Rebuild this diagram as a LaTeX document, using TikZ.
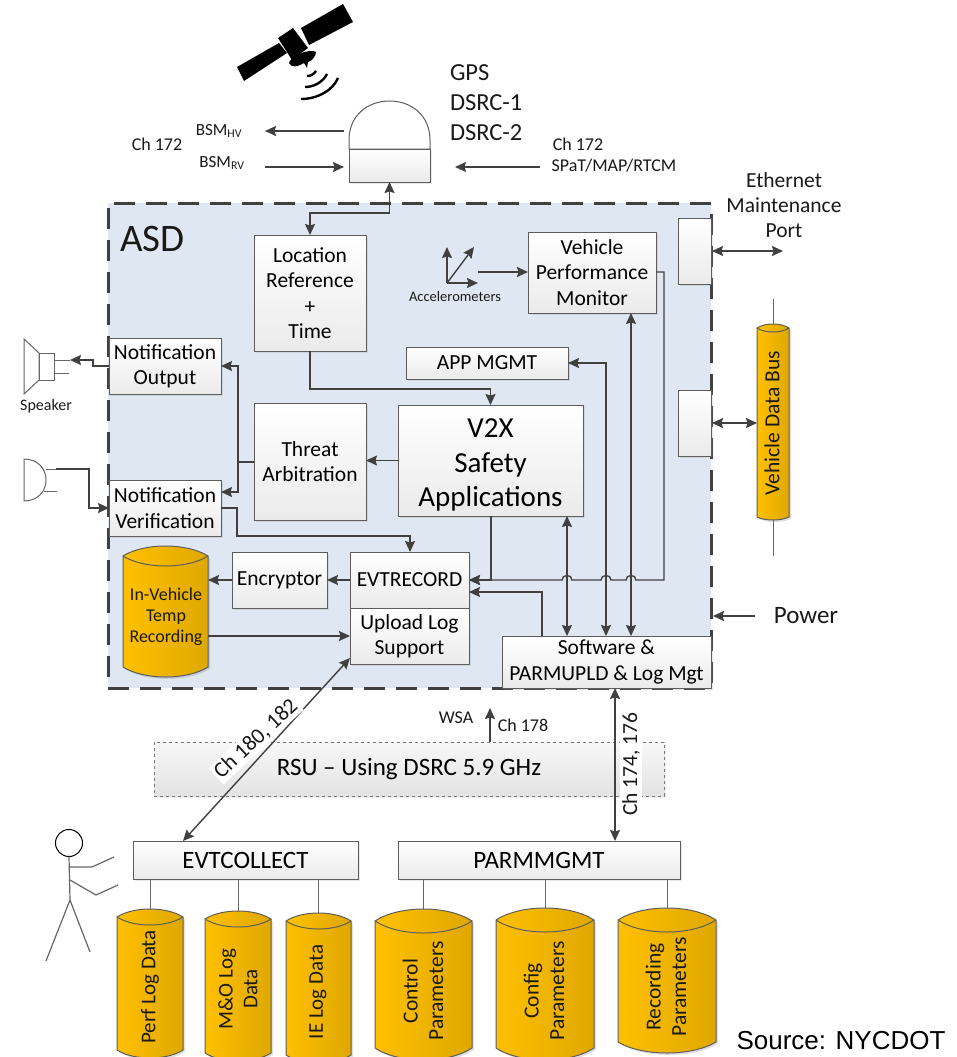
\documentclass[tikz,border=0pt]{standalone}
\usepackage{fontspec}
\setmainfont{Carlito}
\newfontfamily\srcfont{Liberation Sans}
\usetikzlibrary{arrows.meta,shadows,calc}
\definecolor{ln}{HTML}{404040}
\definecolor{asdfill}{HTML}{DFE8F2}
\definecolor{cyla}{HTML}{FFC000}
\definecolor{cylb}{HTML}{DFA800}
\newcommand{\fsz}[1]{\pgfmathsetmacro\blsv{#1*1.18}\fontsize{#1}{\blsv}\selectfont}
\tikzset{
  fs/.style={font=\fsz{#1}},
  boxs/.style={draw=ln!85,line width=1pt,top color=white,bottom color=black!8,
    inner sep=0pt,outer sep=0pt,align=center,text=black,
    drop shadow={opacity=.18,shadow xshift=1.5pt,shadow yshift=-1.5pt}},
  lab/.style={inner sep=0pt,outer sep=0pt,align=center,text=black!90},
  tip/.tip={Stealth[length=11pt,width=10pt,inset=1.5pt]},
  arr/.style={draw=ln,line width=1.4pt,-{tip}},
  darr/.style={draw=ln,line width=1.4pt,{tip}-{tip}},
  wire/.style={draw=ln,line width=1.4pt},
  thin line/.style={draw=ln!80,line width=1pt},
  cylfill/.style={draw=ln!85,line width=1pt,left color=cyla,right color=cylb},
  sat/.style={fill=black,draw=none},
  wave/.style={draw=black,line width=2.4pt},
}
% box from corners
\newcommand{\bx}[7][]{%
  \pgfmathsetmacro\cxv{(#3+#5)/2}\pgfmathsetmacro\cyv{(#4+#6)/2}%
  \pgfmathsetmacro\wv{#5-#3}\pgfmathsetmacro\hv{#6-#4}%
  \node[boxs,#1,minimum width=\wv pt,minimum height=\hv pt] (#2) at (\cxv,\cyv) {#7};}
% cylinder: name x1 x2 ytop d ybc ybot textopts text
\newcommand{\cyl}[9]{%
  \pgfmathsetmacro\xm{(#2+#3)/2}\pgfmathsetmacro\wq{(#3-#2)/4}%
  \pgfmathsetmacro\yc{#4+#5}\pgfmathsetmacro\yq{#4+#5-4/3*#5}\pgfmathsetmacro\yl{#4+#5+4/3*#5}%
  \pgfmathsetmacro\yb{#6+4/3*(#7-#6)}%
  \pgfmathsetmacro\xa{#2+\wq}\pgfmathsetmacro\xb{#3-\wq}%
  \path[fill=black,opacity=.12] (#2+2,\yc+2) -- (#2+2,#6+2) .. controls (\xa+2,\yb+2) and (\xb+2,\yb+2) .. (#3+2,#6+2) -- (#3+2,\yc+2) -- cycle;
  \path[cylfill] (#2,\yc) .. controls (\xa,\yq) and (\xb,\yq) .. (#3,\yc) -- (#3,#6) .. controls (\xb,\yb) and (\xa,\yb) .. (#2,#6) -- cycle;
  \draw[draw=ln!85,line width=1pt] (#2,\yc) .. controls (\xa,\yl) and (\xb,\yl) .. (#3,\yc);
  \pgfmathsetmacro\cyv{(#4+#7)/2}\pgfmathsetmacro\wv{#3-#2}\pgfmathsetmacro\hv{#7-#4}%
  \node[inner sep=0pt,outer sep=0pt,minimum width=\wv pt,minimum height=\hv pt] (#1) at (\xm,\cyv) {};
  \node[lab,#8] (#1-t) {#9};}
\begin{document}
\begin{tikzpicture}[x=1pt,y=-1pt]
\useasboundingbox (0,0) rectangle (957,1057);
% ASD frame
\node[draw=ln,line width=3pt,dash pattern=on 21pt off 11pt,fill=asdfill,inner sep=0pt,outer sep=0pt,minimum width=603pt,minimum height=485pt] (asd) at (409.5,445.5) {};
\node[lab,fs=39,anchor=west] (asdt) at (120,239) {ASD};
% satellite
\fill[sat] (237,67) -- (244,81) -- (287,53) -- (279,43) -- cycle;
\fill[sat] (301,28) -- (343,4) -- (353,22) -- (309,45) -- cycle;
\fill[sat] (278,38) -- (293,28) -- (308,48) -- (292,60) -- cycle;
\fill[sat] (289,63) .. controls (290,56) and (310,48) .. (316,52) .. controls (316,56) and (312,61) .. (308,62) -- (307,68) -- (304,63) .. controls (298,67) and (291,68) .. (289,63) -- cycle;
\draw[wave] (307,76) .. controls (311,76) and (314,74) .. (316,71);
\draw[wave] (305,87) .. controls (314,87) and (323,82) .. (327,74);
\draw[wave] (301,99) .. controls (318,99) and (333,90) .. (338,78);
% antenna
\node[inner sep=0pt,outer sep=0pt,minimum width=81pt,minimum height=48pt] (domeb) at (389.5,125) {};
\draw[line width=1pt,draw=ln!85,fill=white] (349,149) -- (349,140) .. controls (349,116) and (367,101) .. (389.5,101) .. controls (412,101) and (430,116) .. (430,140) -- (430,149) -- cycle;
\bx{antbox}{349}{149}{430}{182}{}
% antenna labels
\node[lab,fs=24.5,anchor=west] (gps) at (450,73) {GPS};
\node[lab,fs=24.5,anchor=west] (d1) at (450,103) {DSRC-1};
\node[lab,fs=24.5,anchor=west] (d2) at (450,133) {DSRC-2};
\node[lab,fs=18] (c1) at (157,144) {Ch 172};
\node[lab,fs=17] (bh) at (219,131) {BSM\textsubscript{HV}};
\node[lab,fs=17] (br) at (222,163) {BSM\textsubscript{RV}};
\node[lab,fs=18] (c2) at (578,144) {Ch 172};
\node[lab,fs=18] (sp) at (614,166) {SPaT/MAP/RTCM};
\coordinate (ah) at (265,131); \coordinate (ar) at (265,167); \coordinate (as) at (540,167);
\draw[arr] (domeb.west |- ah) ++(-5,0) -- (ah);
\draw[arr] (ar) -- ($(antbox.west |- ar)+(-5,0)$);
\draw[arr] (as) -- (455,167);
% boxes
\bx[fs=21.5]{loc}{254}{235}{366}{351}{Location\\Reference\\+\\Time}
\bx[fs=21.5]{vpm}{528}{232}{656}{313}{Vehicle\\Performance\\Monitor}
\bx{port1}{678}{218}{711}{284}{}
\bx{port2}{678}{390}{711}{456}{}
\bx[fs=21.5]{app}{406}{347}{568}{379}{APP MGMT}
\bx[fs=29]{v2x}{398}{405}{583}{516}{\rule{0pt}{28pt}V2X\\Safety\\Applications}
\bx[fs=21.5]{threat}{254}{403}{366}{520}{Threat\\Arbitration}
\bx[fs=21.5]{nout}{109}{338}{221}{394}{Notification\\Output}
\bx[fs=21.5]{nver}{109}{480}{221}{536}{Notification\\Verification}
\bx[fs=21.5]{enc}{232}{552}{327}{608}{Encryptor}
\bx[fs=21.5]{evt}{350}{552}{469}{608}{EVTRECORD}
\bx[fs=21.5]{upl}{350}{608}{469}{664}{Upload Log\\Support}
\bx[fs=21.5]{sw}{502}{636}{711}{688}{Software \&\\PARMUPLD \& Log Mgt}
% RSU
\node[draw=ln!70,dashed,line width=.8pt,top color=black!3,bottom color=black!11,inner sep=0pt,outer sep=0pt,minimum width=510pt,minimum height=54pt,fs=25,text=black,drop shadow={opacity=.12,shadow xshift=1.5pt,shadow yshift=-1.5pt}] (rsu) at (409,769) {RSU -- Using DSRC 5.9 GHz};
\bx[fs=25]{ecol}{133}{841}{358}{879}{EVTCOLLECT}
\bx[fs=25]{pmg}{398}{841}{680}{879}{PARMMGMT}
% cylinders
\cyl{ivt}{123}{208}{546}{10}{667}{677}{fs=18,at={(166,617)}}{In-Vehicle\\Temp\\Recording}
\cyl{vdb}{757}{789}{324}{4}{517}{520}{fs=21.5,rotate=90,at={(772,423)}}{Vehicle Data Bus}
\cyl{perf}{117}{183}{909}{8}{1050}{1058}{fs=21,rotate=90,at={(150,987)}}{Perf Log Data}
\cyl{mo}{205}{271}{911}{8}{1053}{1061}{fs=21,rotate=90,at={(238,989)}}{M\&O Log\\Data}
\cyl{ie}{286}{351}{913}{8}{1055}{1063}{fs=21,rotate=90,at={(318,992)}}{IE Log Data}
\cyl{ctl}{375}{472}{909}{12}{1048}{1060}{fs=21.5,rotate=90,at={(423,991)}}{Control\\Parameters}
\cyl{cfg}{496}{594}{908}{12}{1048}{1060}{fs=21.5,rotate=90,at={(544,991)}}{Config\\Parameters}
\cyl{rec}{618}{716}{908}{12}{1042}{1053}{fs=21.5,rotate=90,at={(666,987)}}{Recording\\Parameters}
% cylinder stems
\draw[thin line] (vdb.north) -- ++(0,-25);
\draw[thin line] (vdb.south) -- ++(0,36);
\foreach \c in {perf,mo,ie} \draw[thin line] (ecol.south -| \c.north) -- (\c.north);
\foreach \c in {ctl,cfg,rec} \draw[thin line] (pmg.south -| \c.north) -- (\c.north);
% main connectors
\draw[darr] (loc.north) -- (loc.north |- 0,213) -| (antbox.south);
\draw[arr] (loc.south) -- (loc.south |- 0,389) -| (v2x.north);
\draw[arr] (v2x.west) -- (threat.east |- v2x.west);
\coordinate (tj) at (238,462);
\draw[wire] (threat.west |- tj) -- (tj);
\draw[arr] (tj) |- (nout.east);
\draw[arr] (tj) |- (nver.east |- 0,492);
\draw[arr] (nver.east |- 0,508) -- (237,508) |- (410,536) -- (evt.north -| 410,0);
\draw[arr] (evt.west) -- (enc.east);
\draw[arr] (enc.west) -- (ivt.east |- enc.west);
\draw[arr] (ivt.east |- upl.west) ++(0,0) coordinate (ivo) -- (ivo -| upl.west);
\draw[arr] (v2x.south -| 491,0) -- (491,580) -- (evt.east);
\draw[arr] (vpm.east |- 0,272) -- (664,272) -- (664,580) -- (636,580)
  .. controls (636,574) and (626,574) .. (626,580) -- (611,580)
  .. controls (611,574) and (601,574) .. (601,580) -- (572,580)
  .. controls (572,574) and (562,574) .. (562,580) -- (evt.east);
\draw[arr] (sw.north -| 542,0) -- (542,592) -- (evt.east |- 0,592);
\draw[darr] (v2x.south -| 567,0) -- (sw.north -| 567,0);
\draw[darr] (app.east) -- (606,363) -- (sw.north -| 606,0);
\draw[darr] (vpm.south -| 631,0) -- (sw.north -| 631,0);
% accelerometers
\node[lab,fs=14.5] (acct) at (455,297) {Accelerometers};
\coordinate (o) at (447,283);
\draw[arr] (o) -- (447,247);
\draw[arr] (o) -- (474,247);
\draw[arr] (o) -- (478,283);
\draw[arr] (478,272) -- (vpm.west |- 0,272);
% right side
\coordinate (ethend) at (783,251);
\draw[darr] (port1.east |- ethend) ++(1,0) -- (ethend);
\draw[darr] ($(port2.east |- vdb-t)+(1,0)$) -- (vdb.west |- vdb-t);
\coordinate (pw) at (755,616);
\draw[arr] (pw) -- (713,616);
\node[lab,fs=25] (pwt) at (806,616) {Power};
\node[lab,fs=21.5] (eth) at (784,205) {Ethernet\\Maintenance\\Port};
% speaker
\draw[line width=1pt,draw=ln!80,fill=white] (24,339) -- (39,353) -- (39,380) -- (24,394) -- cycle;
\node[draw=ln!80,line width=1pt,inner sep=0pt,outer sep=0pt,minimum width=15pt,minimum height=27pt] (spk) at (46.5,366.5) {};
\draw[thin line] (spk.east |- 0,360) -- (70,360);
\draw[thin line] (spk.east |- 0,373) -- (69,373);
\draw[arr] (nout.west) -- (93,366) -- (93,360) -- (70,360);
\node[lab,fs=16] (spkt) at (46,406) {Speaker};
% mic
\draw[line width=1pt,draw=ln!80,fill=white] (24,459) .. controls (38,459) and (46,469) .. (46,480) .. controls (46,491) and (38,501) .. (24,501) -- cycle;
\draw[thin line] (46,469) -- (56,469);
\draw[thin line] (44,491) -- (57,491);
\draw[arr] (56,469) -- (89,469) -- (89,508) -- (nver.west |- 0,508);
% lower
\draw[darr] (upl.west |- 0,658) -- (ecol.north -| 183,0);
\node[lab,fs=22,rotate=43,fill=white,inner sep=2pt] (ch180) at (256,739) {Ch 180, 182};
\draw[arr] (rsu.north -| 490,0) -- (490,708);
\node[lab,fs=18] (wsa) at (456,718) {WSA};
\node[lab,fs=18] (ch178) at (523,725) {Ch 178};
\draw[darr] (sw.south -| 615,0) -- (pmg.north -| 615,0);
\node[lab,fs=21.5,rotate=90,fill=white,inner sep=2pt] (ch174) at (631,764) {Ch 174, 176};
% person
\node[draw=black,line width=1pt,circle,minimum size=27pt,inner sep=0pt,outer sep=0pt,fill=white] (head) at (69,843) {};
\draw[thin line,line width=1.2pt] (head.south) -- (70,900) -- (46,961);
\draw[thin line,line width=1.2pt] (70,900) -- (90,952);
\draw[thin line,line width=1.2pt] (70,867) -- (92,867) -- (114,857);
\draw[thin line,line width=1.2pt] (70,880) -- (96,895) -- (118,885);
% source
\node[font=\srcfont\fontsize{26}{30}\selectfont,inner sep=0pt] (src) at (841,1041) {Source: NYCDOT};
\end{tikzpicture}
\end{document}
